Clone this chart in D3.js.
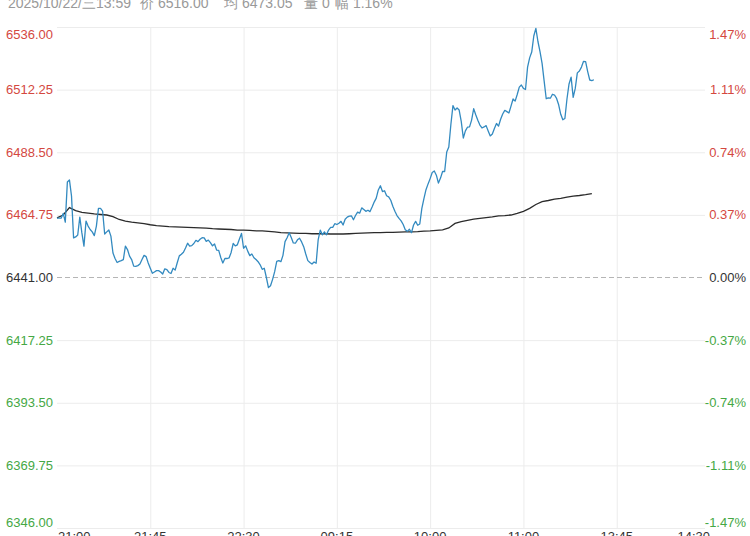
<!doctype html>
<html lang="zh">
<head>
<meta charset="utf-8">
<title>分时图</title>
<script src="https://cdn.jsdelivr.net/npm/d3@7"></script>
<style>
  body { margin: 0; background: #fff; }
  svg { display: block; font-family: "Liberation Sans", Arial, sans-serif; }
</style>
</head>
<body>
<script>
// x axis labels, one every 45 trading minutes from 21:00
const timeLabels = ["21:00", "21:45", "22:30", "09:15", "10:00", "11:00", "13:45", "14:30"];
const priceTicks = [6536.00, 6512.25, 6488.50, 6464.75, 6441.00, 6417.25, 6393.50, 6369.75, 6346.00];
const pctLabels = ["1.47%", "1.11%", "0.74%", "0.37%", "0.00%", "-0.37%", "-0.74%", "-1.11%", "-1.47%"];
const prevClose = 6441.00;

// header line
const headTime = "2025/10/22/三13:59";
const headItems = ["价 6516.00", "均 6473.05", "量 0", "幅 1.16%"];

// last price, one per minute from 21:00
const prices = [
  6463.5, 6463.5, 6463.5, 6465.3, 6462.0, 6477.2, 6478.0, 6471.9, 6456.0, 6456.4,
  6457.1, 6463.9, 6457.9, 6452.9, 6462.4, 6460.5, 6459.2, 6458.3, 6456.9, 6460.5,
  6467.2, 6467.2, 6466.2, 6457.5, 6458.3, 6459.0, 6456.7, 6450.3, 6448.2, 6446.7,
  6447.1, 6447.4, 6447.8, 6452.9, 6451.6, 6449.1, 6447.8, 6445.3, 6445.2, 6445.5,
  6446.1, 6447.8, 6449.4, 6448.9, 6446.5, 6444.5, 6442.6, 6443.1, 6443.6, 6443.6,
  6443.1, 6442.3, 6444.3, 6444.0, 6442.9, 6442.5, 6444.5, 6443.8, 6446.6, 6449.2,
  6449.8, 6450.6, 6452.2, 6454.0, 6452.9, 6453.1, 6453.9, 6455.1, 6454.6, 6455.5,
  6456.1, 6456.0, 6454.7, 6455.2, 6454.2, 6453.0, 6453.7, 6451.4, 6451.3, 6448.6,
  6446.5, 6448.2, 6448.2, 6448.4, 6450.5, 6453.9, 6453.0, 6453.4, 6455.6, 6457.7,
  6452.1, 6453.0, 6451.0, 6449.3, 6449.9, 6448.5, 6447.8, 6447.0, 6445.8, 6444.1,
  6444.5, 6441.0, 6437.2, 6437.9, 6440.3, 6443.2, 6447.1, 6447.4, 6447.0, 6449.4,
  6454.6, 6456.1, 6458.0, 6456.2, 6454.1, 6454.0, 6455.3, 6455.9, 6454.5, 6452.7,
  6449.9, 6447.4, 6446.7, 6446.1, 6446.9, 6446.4, 6455.4, 6459.0, 6457.2, 6458.3,
  6457.2, 6459.0, 6460.0, 6460.0, 6461.4, 6461.1, 6461.6, 6462.3, 6460.9, 6463.1,
  6463.9, 6464.3, 6464.4, 6462.9, 6464.5, 6465.8, 6465.4, 6467.4, 6466.8, 6466.1,
  6466.5, 6466.0, 6467.7, 6469.6, 6471.1, 6474.2, 6475.8, 6473.6, 6473.9, 6472.0,
  6471.6, 6470.3, 6468.0, 6466.1, 6464.5, 6463.4, 6462.5, 6461.1, 6459.1, 6458.5,
  6459.3, 6458.0, 6460.9, 6462.3, 6460.8, 6461.3, 6467.2, 6470.9, 6474.3, 6476.5,
  6478.5, 6480.8, 6481.4, 6479.8, 6476.8, 6478.7, 6481.2, 6481.2, 6488.6, 6490.5,
  6499.0, 6506.2, 6504.5, 6505.3, 6504.5, 6500.2, 6493.9, 6496.6, 6498.0, 6498.1,
  6500.7, 6505.0, 6502.7, 6500.6, 6498.8, 6497.7, 6498.1, 6498.6, 6496.6, 6494.7,
  6495.4, 6497.5, 6499.4, 6498.4, 6501.0, 6503.0, 6504.4, 6503.9, 6503.4, 6506.0,
  6508.7, 6507.9, 6510.4, 6513.2, 6514.0, 6512.7, 6512.3, 6520.8, 6524.3, 6526.5,
  6532.6, 6535.5, 6530.5, 6526.7, 6522.2, 6515.5, 6508.8, 6509.1, 6509.0, 6510.5,
  6510.2, 6508.9, 6506.5, 6502.9, 6500.8, 6501.3, 6508.7, 6514.4, 6517.0, 6509.3,
  6512.7, 6518.6, 6519.3, 6520.8, 6523.0, 6522.9, 6519.1, 6515.9, 6515.7, 6516.0
];

// average price, one every 3 minutes from 21:00
const avgStep = 3;
const avgPrices = [
  6463.6, 6464.7, 6467.5, 6466.4, 6465.7, 6465.4, 6465.1, 6464.9, 6464.7, 6464.1,
  6463.0, 6462.4, 6462.0, 6461.7, 6461.4, 6461.0, 6460.7, 6460.5, 6460.3, 6460.2,
  6460.1, 6460.0, 6459.9, 6459.8, 6459.7, 6459.5, 6459.4, 6459.3, 6459.2, 6459.0,
  6459.0, 6458.9, 6458.7, 6458.7, 6458.5, 6458.3, 6458.0, 6457.9, 6457.8, 6457.7,
  6457.7, 6457.6, 6457.6, 6457.6, 6457.5, 6457.5, 6457.5, 6457.6, 6457.7, 6457.8,
  6457.9, 6458.0, 6458.0, 6458.1, 6458.1, 6458.2, 6458.3, 6458.3, 6458.4, 6458.6,
  6458.7, 6458.9, 6459.1, 6459.8, 6461.5, 6462.2, 6462.7, 6463.1, 6463.4, 6463.7,
  6464.0, 6464.4, 6464.5, 6464.7, 6465.3, 6466.1, 6467.2, 6468.7, 6469.8, 6470.2,
  6470.7, 6471.0, 6471.5, 6471.9, 6472.1, 6472.4, 6472.8
];

const w = 750, h = 536;
const padL = 57, padR = 705, padT = 27, padB = 528;
const red = "#d4483f", green = "#45a845", dark = "#333";

const tickMinutes = timeLabels.map((d, i) => i * 45);

const xScale = d3.scaleLinear()
  .domain([0, d3.max(tickMinutes)])
  .range([padL, 710]);
const yScale = d3.scaleLinear()
  .domain([d3.min(priceTicks), d3.max(priceTicks)])
  .range([padB, padT]);

const svg = d3.select("body").append("svg")
  .attr("width", w)
  .attr("height", h);

// horizontal grid
const hGrid = svg.append("g")
  .attr("transform", "translate(" + padL + ",0)")
  .call(d3.axisLeft(yScale).tickValues(priceTicks.filter(d => d !== prevClose))
    .tickSize(-(padR - padL)).tickFormat(""));
hGrid.select(".domain").remove();
hGrid.selectAll("line").attr("stroke", "#ececec");

// vertical grid
const vGrid = svg.append("g")
  .attr("transform", "translate(0," + padB + ")")
  .call(d3.axisBottom(xScale).tickValues(tickMinutes.slice(1, -1))
    .tickSize(-(padB - padT)).tickFormat(""));
vGrid.select(".domain").remove();
vGrid.selectAll("line").attr("stroke", "#ececec");

// previous close
svg.append("line")
  .attr("x1", padL).attr("x2", padR)
  .attr("y1", yScale(prevClose)).attr("y2", yScale(prevClose))
  .attr("stroke", "#b5b5b5")
  .attr("stroke-dasharray", "5,3");

const colorOf = d => d > prevClose ? red : (d < prevClose ? green : dark);
const dyOf = (d, i) => i === 0 ? "0.95em" : (i === priceTicks.length - 1 ? "-0.1em" : "0.35em");

// left price labels
svg.append("g").selectAll("text")
  .data(priceTicks)
  .join("text")
  .attr("x", 6)
  .attr("y", d => yScale(d))
  .attr("dy", dyOf)
  .attr("font-size", 13)
  .attr("fill", colorOf)
  .text(d => d.toFixed(2));

// right percent labels
svg.append("g").selectAll("text")
  .data(priceTicks)
  .join("text")
  .attr("x", 746)
  .attr("y", d => yScale(d))
  .attr("dy", dyOf)
  .attr("text-anchor", "end")
  .attr("font-size", 13)
  .attr("fill", colorOf)
  .text((d, i) => pctLabels[i]);

// time labels
svg.append("g").selectAll("text")
  .data(timeLabels)
  .join("text")
  .attr("x", (d, i) => xScale(tickMinutes[i]) + (i === 0 ? 1 : 0))
  .attr("y", 541)
  .attr("text-anchor", (d, i) => i === 0 ? "start" : (i === timeLabels.length - 1 ? "end" : "middle"))
  .attr("font-size", 13)
  .attr("fill", dark)
  .text(d => d);

// average line
svg.append("path")
  .datum(avgPrices)
  .attr("fill", "none")
  .attr("stroke", "#2b2b2b")
  .attr("stroke-width", 1.3)
  .attr("d", d3.line().x((d, i) => xScale(i * avgStep)).y(d => yScale(d)));

// price line
svg.append("path")
  .datum(prices)
  .attr("fill", "none")
  .attr("stroke", "#338ac0")
  .attr("stroke-width", 1.3)
  .attr("stroke-linejoin", "round")
  .attr("d", d3.line().x((d, i) => xScale(i)).y(d => yScale(d)));

// header
const head = svg.append("g").attr("fill", "#999").attr("font-size", 14);
head.append("text").attr("x", 131).attr("y", 8).attr("text-anchor", "end").text(headTime);
const headX = [140, 224, 304, 335];
head.selectAll("text.item")
  .data(headItems)
  .join("text")
  .attr("class", "item")
  .attr("x", (d, i) => headX[i])
  .attr("y", 8)
  .text(d => d);
</script>
</body>
</html>
